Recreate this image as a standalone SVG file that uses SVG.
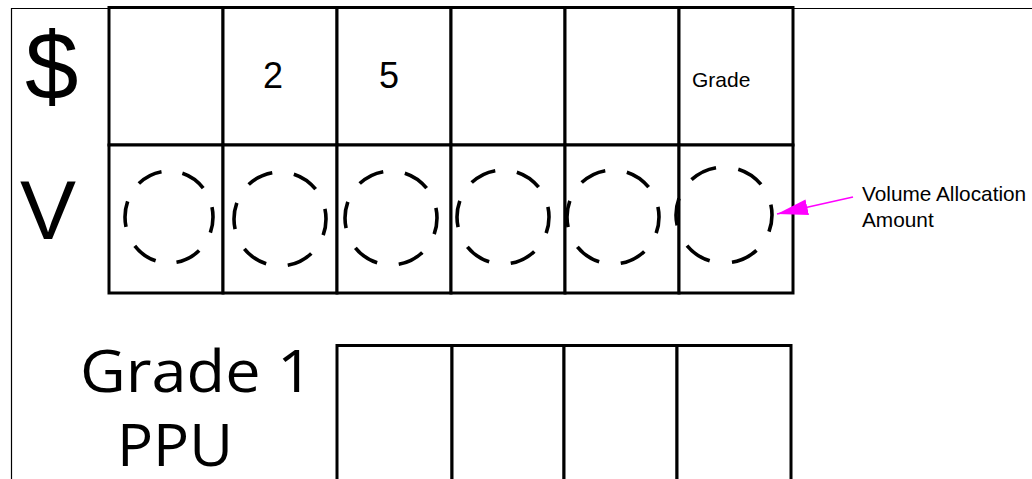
<svg xmlns="http://www.w3.org/2000/svg" width="1032" height="479" viewBox="0 0 1032 479">
<style>
.bg{fill:#fff}
.frame{fill:none;stroke:#000;stroke-width:1.2}
.cell{fill:#fff;stroke:#000;stroke-width:3}
.dash{fill:none;stroke:#000;stroke-width:3.6;stroke-dasharray:0.55 0.45;stroke-dashoffset:0.21}
.arial{font-family:"Liberation Sans",Arial,sans-serif;fill:#000}
.open{font-family:"Open Sans","Noto Sans",sans-serif;fill:#000}
.conn{stroke:#ff00ff;stroke-width:1.6;fill:none}
</style>
<defs>
<marker id="ah" markerUnits="userSpaceOnUse" markerWidth="32" markerHeight="17" refX="31" refY="8" orient="auto">
<path d="M0,0 L31,8 L0,16 Z" fill="#ff00ff"/>
</marker>
</defs>
<rect class="bg" x="0" y="0" width="1032" height="479"/>
<path class="frame" d="M11.5,480 V8.5 H1032"/>

<g id="label-dollar"><text class="arial" x="25" y="99" font-size="96">$</text></g>
<g id="label-v"><text class="arial" x="20" y="239" font-size="84">V</text></g>
<g id="label-grade1-ppu">
<text class="open" x="80" y="392" font-size="59" textLength="233" lengthAdjust="spacingAndGlyphs">Grade 1</text>
<text class="open" x="117" y="466" font-size="59" textLength="116" lengthAdjust="spacingAndGlyphs">PPU</text>
</g>

<g id="row-dollar">
<g id="d1"><rect class="cell" x="109" y="7.5" width="114" height="137.5"/></g>
<g id="d2"><rect class="cell" x="223" y="7.5" width="114" height="137.5"/><text class="arial" x="263" y="88" font-size="36">2</text></g>
<g id="d3"><rect class="cell" x="337" y="7.5" width="114" height="137.5"/><text class="arial" x="379" y="88" font-size="36">5</text></g>
<g id="d4"><rect class="cell" x="451" y="7.5" width="114" height="137.5"/></g>
<g id="d5"><rect class="cell" x="565" y="7.5" width="114" height="137.5"/></g>
<g id="d6"><rect class="cell" x="679" y="7.5" width="114" height="137.5"/><text class="arial" x="692" y="87" font-size="21">Grade</text></g>
</g>

<g id="row-v">
<g id="v1"><rect class="cell" x="109" y="145" width="114" height="148"/><ellipse class="dash" pathLength="6" cx="169" cy="217" rx="44" ry="46"/></g>
<g id="v2"><rect class="cell" x="223" y="145" width="114" height="148"/><ellipse class="dash" pathLength="6" cx="280" cy="219" rx="46" ry="47"/></g>
<g id="v3"><rect class="cell" x="337" y="145" width="114" height="148"/><ellipse class="dash" pathLength="6" cx="391" cy="218" rx="46" ry="47"/></g>
<g id="v4"><rect class="cell" x="451" y="145" width="114" height="148"/><ellipse class="dash" pathLength="6" cx="503" cy="217" rx="46" ry="47"/></g>
<g id="v5"><rect class="cell" x="565" y="145" width="114" height="148"/><ellipse class="dash" pathLength="6" cx="613" cy="217" rx="46" ry="47"/></g>
<g id="v6"><rect class="cell" x="679" y="145" width="114" height="148"/><ellipse class="dash" pathLength="6" cx="724" cy="215" rx="48" ry="48"/></g>
</g>

<g id="row-ppu">
<g id="p1"><rect class="cell" x="337" y="345.5" width="115" height="140"/></g>
<g id="p2"><rect class="cell" x="452" y="345.5" width="112" height="140"/></g>
<g id="p3"><rect class="cell" x="564" y="345.5" width="113" height="140"/></g>
<g id="p4"><rect class="cell" x="677" y="345.5" width="114" height="140"/></g>
</g>

<g id="note-volume">
<text class="arial" font-size="20.8"><tspan x="862" y="201">Volume Allocation</tspan><tspan x="862" y="227">Amount</tspan></text>
</g>

<g id="connectors">
<line class="conn" x1="853" y1="197" x2="777" y2="214" marker-end="url(#ah)"/>
</g>
</svg>
